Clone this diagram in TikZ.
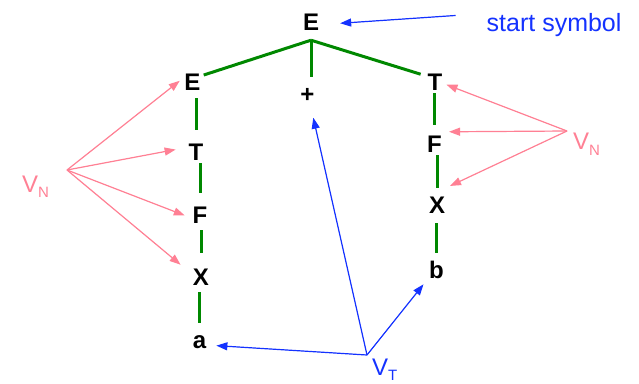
\documentclass[tikz,border=0pt]{standalone}
\usepackage{fontspec}
\setmainfont{Liberation Sans}
\usepackage{xcolor}
\usetikzlibrary{arrows.meta,calc}
\definecolor{treegreen}{RGB}{0,136,0}
\definecolor{vnpink}{RGB}{255,128,148}
\definecolor{vtblue}{RGB}{20,50,255}
\newcommand{\vlabel}[2][6pt]{\fontsize{24}{24}\selectfont V\raisebox{-#1}{\fontsize{15}{15}\selectfont #2}}

\begin{document}
\begin{tikzpicture}[x=1pt,y=-1pt,>={Triangle[length=11pt,width=8pt]},
    sym/.style={font=\fontsize{24}{24}\selectfont\bfseries,anchor=base,
      text height=17pt,text depth=0pt,inner sep=3pt},
    tree/.style={draw=treegreen,line width=3pt},
    nonterm/.style={->,draw=vnpink,fill=vnpink,line width=1.2pt},
    term/.style={->,draw=vtblue,fill=vtblue,line width=1.2pt}]
      \useasboundingbox (0,0) rectangle (639,383);
      % parse tree
      \node[sym] (root) at (311,30) {E};
      \node[sym] (e1) at (192.5,90) {E};
      \node[sym] (t1) at (196,160) {T};
      \node[sym] (f1) at (200,223) {F};
      \node[sym] (x1) at (201,285) {X};
      \node[sym] (a1) at (199.5,348) {a};
      \node[sym] (plus) at (307.5,102.8) {+};
      \node[sym] (t2) at (435,90) {T};
      \node[sym] (f2) at (434.5,152) {F};
      \node[sym] (x2) at (437,213) {X};
      \node[sym] (b2) at (436.5,278) {b};
      \coordinate (apex) at ([yshift=-7pt]root.south);
      \draw[tree] (apex) -- (e1.30);
      \draw[tree,shorten >=4pt] (apex) -- (t2.150);
      \draw[tree] (apex) -- (apex |- plus.north) [shorten >=6pt];
      \draw[tree,shorten <=5pt,shorten >=10pt] (e1.south -| t1.north) -- (t1.north);
      \draw[tree,shorten >=10pt] (t1.south -| f1.north) -- (f1.north);
      \draw[tree,shorten <=4pt,shorten >=12pt] (f1.south -| x1.north) -- (x1.north);
      \draw[tree,shorten <=4pt,shorten >=5pt] (x1.south -| a1.north) -- (a1.north);
      \draw[tree,shorten >=7pt] (t2.south -| f2.north) -- (f2.north);
      \draw[tree,shorten >=5pt] (f2.south -| x2.north) -- (x2.north);
      \draw[tree,shorten <=7pt,shorten >=5pt] (x2.south -| b2.north) -- (b2.north);
      % labels
      \node[anchor=base west,inner sep=0pt,text=vtblue,font=\fontsize{25}{25}\selectfont] (start) at (486.5,31.7) {start symbol};
      \draw[term,shorten <=31pt,shorten >=18pt] (start.north west) -- (root.-15);
      \node[anchor=base west,inner sep=0pt,text=vnpink] (vnleft) at (22,192) {\vlabel[5pt]{N}};
      \node[anchor=base west,inner sep=0pt,text=vnpink] (vnright) at (573,149) {\vlabel{N}};
      \node[anchor=base west,inner sep=0pt,text=vtblue] (vt) at (372,375) {\vlabel[5pt]{T}};
      \coordinate (vnl) at (67,170);
      \coordinate (vnr) at (567,131);
      \coordinate (vtc) at (367,355);
      \draw[nonterm,shorten >=2pt] (vnl) -- (e1.170);
      \draw[nonterm,shorten >=10pt] (vnl) -- (t1.160);
      \draw[nonterm,shorten >=5pt] (vnl) -- (f1.195);
      \draw[nonterm,shorten >=12pt] (vnl) -- (x1.160);
      \draw[nonterm,shorten >=1pt] (vnr) -- (t2.-15);
      \draw[nonterm,shorten >=4pt] (vnr) -- (f2.north east);
      \draw[nonterm,shorten >=2pt] (vnr) -- ([yshift=6pt]x2.north east);
      \draw[term,shorten >=7pt] (vtc) -- (a1.-30);
      \draw[term,shorten >=12pt] (vtc) -- (plus.-75);
      \draw[term,shorten >=4pt] (vtc) -- (b2.south west);
    \end{tikzpicture}
\end{document}
